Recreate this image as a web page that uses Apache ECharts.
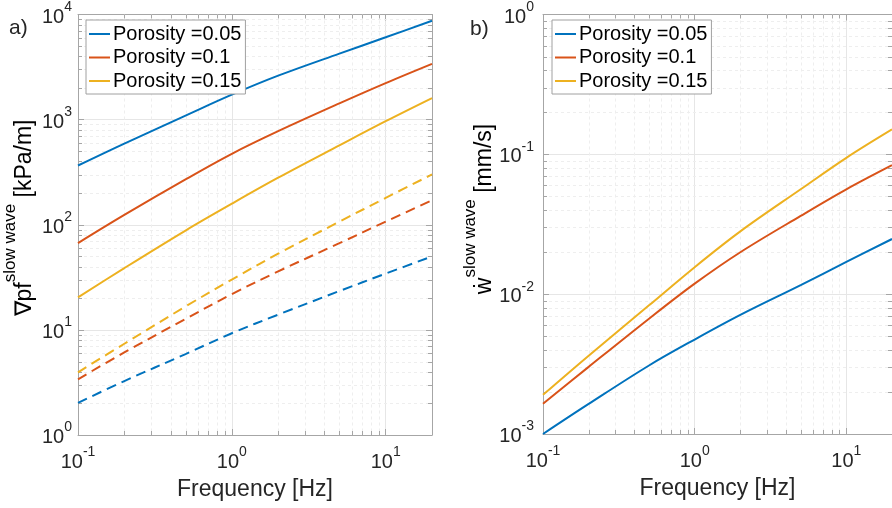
<!DOCTYPE html>
<html>
<head>
  <meta charset="utf-8">
  <script type="text/javascript" src="https://cdn.jsdelivr.net/npm/echarts@6/dist/echarts.min.js"></script>
  <style>
    body { margin: 0; background: #fff; }
  </style>
</head>
<body>
  <div id="main" style="width: 892px; height: 508px;"></div>
  <script>
    // frequencies the curves are sampled at (Hz)
    var freq = [0.1, 0.2, 0.5, 1, 2, 5, 10, 20];

    // a) pressure gradient of the slow wave, kPa/m (solid and dashed sets)
    var gradSolid005 = [366, 592, 1091, 1726, 2618, 4246, 6067, 8710];
    var gradSolid010 = [66.9, 124, 270, 473, 776, 1426, 2223, 3388];
    var gradSolid015 = [20.4, 38.7, 88.1, 158.5, 280, 569, 966, 1603];
    var gradDash005 = [2.02, 3.26, 5.89, 9.29, 13.96, 23.4, 34.3, 50];
    var gradDash010 = [3.39, 6.10, 12.7, 21.9, 36.0, 66.8, 107, 171];
    var gradDash015 = [3.95, 7.38, 16.7, 30.1, 53.1, 107, 180, 301];

    // b) fluid velocity of the slow wave, mm/s
    var vel005 = [0.001, 0.00164, 0.00309, 0.00474, 0.00711, 0.01161, 0.0170, 0.0248];
    var vel010 = [0.001644, 0.00302, 0.00668, 0.01189, 0.01995, 0.0363, 0.0562, 0.0836];
    var vel015 = [0.001905, 0.003631, 0.008318, 0.0156, 0.02812, 0.05623, 0.0944, 0.1507];

    var names = ['Porosity =0.05', 'Porosity =0.1', 'Porosity =0.15'];
    var colors = ['#0072BD', '#D95319', '#EDB120'];

    // minor grid positions
    var xMinor = [0.2, 0.3, 0.4, 0.5, 0.6, 0.7, 0.8, 0.9, 2, 3, 4, 5, 6, 7, 8, 9];
    var yMinorA = [2, 3, 4, 5, 6, 7, 8, 9, 20, 30, 40, 50, 60, 70, 80, 90,
                   200, 300, 400, 500, 600, 700, 800, 900, 2000, 3000, 4000, 5000, 6000, 7000, 8000, 9000];
    var yMinorB = [0.002, 0.003, 0.004, 0.005, 0.006, 0.007, 0.008, 0.009,
                   0.02, 0.03, 0.04, 0.05, 0.06, 0.07, 0.08, 0.09,
                   0.2, 0.3, 0.4, 0.5, 0.6, 0.7, 0.8, 0.9];

    var font = "'Liberation Sans', Arial, Helvetica, sans-serif";
    var axisColor = '#a6a6a6';
    var gridColor = '#e6e6e6';
    var minorColor = '#eeeeee';
    var textColor = '#262626';

    function pow10Label(v) {
      var l = Math.log10(v);
      var e = Math.round(l);
      if (Math.abs(l - e) > 1e-6) return '';
      return '{b|10}{s|' + e + '}';
    }
    var tickRich = {
      b: { fontSize: 20, lineHeight: 34, color: textColor, fontFamily: font },
      s: { fontSize: 14, lineHeight: 14, verticalAlign: 'top', color: textColor, fontFamily: font }
    };

    function xAxisPair(grid) {
      return [{
        type: 'log', gridIndex: grid, min: 0.1, max: 20, position: 'bottom',
        axisLine: { lineStyle: { color: axisColor } },
        axisTick: { inside: true, length: 6, lineStyle: { color: axisColor } },
        axisLabel: { formatter: pow10Label, rich: tickRich, margin: 10, showMaxLabel: false },
        splitLine: { show: true, lineStyle: { color: gridColor } },
        name: 'Frequency [Hz]', nameLocation: 'middle', nameGap: 43,
        nameTextStyle: { fontSize: 23, color: textColor, fontFamily: font }
      }, {
        type: 'log', gridIndex: grid, min: 0.1, max: 20, position: 'top',
        axisLine: { lineStyle: { color: axisColor } },
        axisTick: { inside: true, length: 6, lineStyle: { color: axisColor } },
        axisLabel: { show: false }, splitLine: { show: false }
      }];
    }
    function yAxisPair(grid, mn, mx, margin) {
      return [{
        type: 'log', gridIndex: grid, min: mn, max: mx, position: 'left',
        axisLine: { show: true, lineStyle: { color: axisColor } },
        axisTick: { show: true, inside: true, length: 6, lineStyle: { color: axisColor } },
        axisLabel: { formatter: pow10Label, rich: tickRich, margin: margin, padding: [5, 0, 0, 0] },
        splitLine: { show: true, lineStyle: { color: gridColor } }
      }, {
        type: 'log', gridIndex: grid, min: mn, max: mx, position: 'right',
        axisLine: { show: true, lineStyle: { color: axisColor } },
        axisTick: { show: true, inside: true, length: 6, lineStyle: { color: axisColor } },
        axisLabel: { show: false }, splitLine: { show: false }
      }];
    }

    function minorXItem(params, api) {
      var cs = params.coordSys;
      var x = Math.round(api.coord([api.value(0), api.value(1)])[0]) + 0.5;
      var top = cs.y, bot = cs.y + cs.height;
      return { type: 'group', children: [
        { type: 'line', shape: { x1: x, y1: top, x2: x, y2: bot }, style: { stroke: minorColor, lineWidth: 1, lineDash: [3, 3] } },
        { type: 'line', shape: { x1: x, y1: bot, x2: x, y2: bot - 4 }, style: { stroke: axisColor, lineWidth: 1 } },
        { type: 'line', shape: { x1: x, y1: top, x2: x, y2: top + 4 }, style: { stroke: axisColor, lineWidth: 1 } }
      ]};
    }
    function minorYItem(params, api) {
      var cs = params.coordSys;
      var y = Math.round(api.coord([api.value(0), api.value(1)])[1]) + 0.5;
      var l = cs.x, r = cs.x + cs.width;
      return { type: 'group', children: [
        { type: 'line', shape: { x1: l, y1: y, x2: r, y2: y }, style: { stroke: minorColor, lineWidth: 1, lineDash: [3, 3] } },
        { type: 'line', shape: { x1: l, y1: y, x2: l + 4, y2: y }, style: { stroke: axisColor, lineWidth: 1 } },
        { type: 'line', shape: { x1: r, y1: y, x2: r - 4, y2: y }, style: { stroke: axisColor, lineWidth: 1 } }
      ]};
    }

    function pairs(arr) {
      return freq.map(function (f, i) { return [f, arr[i]]; });
    }
    function lineSeries(name, arr, color, xi, yi, dashed) {
      return {
        name: name, type: 'line', xAxisIndex: xi, yAxisIndex: yi,
        data: pairs(arr), symbol: 'none', silent: true, z: 3,
        smooth: 0.35,
        lineStyle: { width: 2, color: color, type: dashed ? [10, 6] : 'solid' },
        itemStyle: { color: color }
      };
    }

    var series = [
      { type: 'custom', xAxisIndex: 0, yAxisIndex: 0, silent: true, z: 1, renderItem: minorXItem,
        data: xMinor.map(function (v) { return [v, 1]; }) },
      { type: 'custom', xAxisIndex: 0, yAxisIndex: 0, silent: true, z: 1, renderItem: minorYItem,
        data: yMinorA.map(function (v) { return [1, v]; }) },
      { type: 'custom', xAxisIndex: 2, yAxisIndex: 2, silent: true, z: 1, renderItem: minorXItem,
        data: xMinor.map(function (v) { return [v, 0.001]; }) },
      { type: 'custom', xAxisIndex: 2, yAxisIndex: 2, silent: true, z: 1, renderItem: minorYItem,
        data: yMinorB.map(function (v) { return [1, v]; }) },

      lineSeries(names[0], gradSolid005, colors[0], 0, 0, false),
      lineSeries(names[1], gradSolid010, colors[1], 0, 0, false),
      lineSeries(names[2], gradSolid015, colors[2], 0, 0, false),
      lineSeries('dash 0.05', gradDash005, colors[0], 0, 0, true),
      lineSeries('dash 0.1', gradDash010, colors[1], 0, 0, true),
      lineSeries('dash 0.15', gradDash015, colors[2], 0, 0, true),

      lineSeries(names[0], vel005, colors[0], 2, 2, false),
      lineSeries(names[1], vel010, colors[1], 2, 2, false),
      lineSeries(names[2], vel015, colors[2], 2, 2, false)
    ];

    function legendAt(left) {
      return {
        left: left, top: 20, orient: 'vertical', data: names,
        icon: 'rect', itemWidth: 21, itemHeight: 2, itemGap: 3.5,
        padding: [4, 4, 3, 3],
        backgroundColor: '#fff', borderColor: '#a0a0a0', borderWidth: 1,
        selectedMode: false,
        textStyle: { fontSize: 20, lineHeight: 20, color: '#000', fontFamily: font, padding: [0, 0, 0, -2] }
      };
    }

    var labelRich = {
      b: { fontSize: 23, lineHeight: 46, color: textColor, fontFamily: font },
      s: { fontSize: 17, lineHeight: 17, verticalAlign: 'top', color: textColor, fontFamily: font }
    };

    var chart = echarts.init(document.getElementById('main'), null, { renderer: 'canvas' });
    chart.setOption({
      animation: false,
      backgroundColor: '#fff',
      grid: [
        { left: 78, top: 13, width: 354, height: 422 },
        { left: 543, top: 13, width: 354, height: 421 }
      ],
      xAxis: xAxisPair(0).concat(xAxisPair(1)),
      yAxis: yAxisPair(0, 1, 10000, 6).concat(yAxisPair(1, 0.001, 1, 9)),
      legend: [legendAt(86), legendAt(552)],
      graphic: [
        { type: 'text', x: 9, y: 28, style: { text: 'a)', font: '21px ' + font, fill: textColor, verticalAlign: 'middle' } },
        { type: 'text', x: 470, y: 29, style: { text: 'b)', font: '21px ' + font, fill: textColor, verticalAlign: 'middle' } },
        { type: 'text', x: 25, y: 218, rotation: Math.PI / 2,
          style: { text: '{b|\u2207pf}{s|slow wave}{b| [kPa/m]}', rich: labelRich, align: 'center', verticalAlign: 'middle' } },
        { type: 'text', x: 485, y: 209, rotation: Math.PI / 2,
          style: { text: '{b|\u1E87}{s|slow wave}{b| [mm/s]}', rich: labelRich, align: 'center', verticalAlign: 'middle' } }
      ],
      series: series
    });
  </script>
</body>
</html>
